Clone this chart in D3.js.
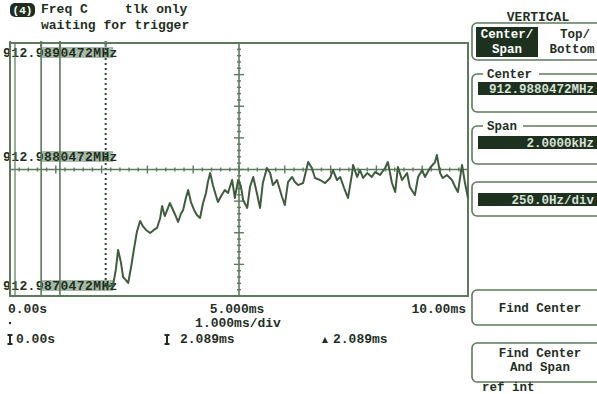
<!DOCTYPE html>
<html><head><meta charset="utf-8">
<script src="https://cdn.jsdelivr.net/npm/d3@7"></script>
<style>
body{margin:0;background:#fff}
svg{display:block}
text{font-family:"Liberation Mono","DejaVu Sans Mono",monospace;font-weight:bold}
</style>
</head><body>
<svg id="c" width="597" height="394"></svg>
<script>
// Frequency-vs-time capture (Freq C), 1 ms/div, 250 Hz/div about the center frequency
const timeMs = [2.09,2.25,2.31,2.36,2.42,2.47,2.53,2.58,2.64,2.71,2.77,2.84,2.90,2.97,3.06,3.14,3.21,3.28,3.32,3.38,
  3.45,3.49,3.56,3.62,3.67,3.73,3.78,3.84,3.89,3.95,4.02,4.08,4.15,4.21,4.28,4.32,4.37,4.43,4.48,4.54,
  4.61,4.69,4.76,4.85,4.91,4.98,5.04,5.09,5.18,5.24,5.31,5.39,5.46,5.52,5.61,5.68,5.74,5.83,5.94,6.00,
  6.07,6.16,6.22,6.29,6.40,6.51,6.59,6.66,6.77,6.88,6.99,7.05,7.14,7.21,7.31,7.38,7.47,7.49,7.58,7.64,
  7.71,7.80,7.90,7.97,8.08,8.19,8.25,8.34,8.41,8.47,8.56,8.67,8.73,8.84,8.91,9.00,9.06,9.17,9.28,9.32,
  9.39,9.45,9.54,9.65,9.72,9.78,9.87,9.93,10.00];
const freqOffsetHz = [-929,-913,-794,-636,-731,-850,-874,-897,-779,-621,-494,-407,-447,-478,-502,-478,-462,-383,-289,-368,
  -304,-265,-320,-368,-415,-352,-320,-225,-162,-257,-320,-360,-383,-273,-186,-99,-28,-123,-186,-257,
  -209,-162,-186,-83,-225,-83,-130,-241,-304,-138,-59,-186,-304,-107,12,-28,-123,-83,-217,-281,
  -99,-59,-99,-123,-107,59,12,-67,-83,-107,-67,-4,-83,-59,-162,-225,-28,36,-59,-4,
  -67,-28,-59,-20,-43,12,59,-107,-178,20,-83,-28,-138,-202,-59,-4,-59,12,59,115,
  -28,-67,-43,-83,-138,-178,36,-99,-225];

const freqTickValues = [1000, 0, -1000];
const freqTickLabels = ["912.9890472MHz", "912.9880472MHz", "912.9870472MHz"];
const timeTickValues = [0, 5, 10];
const timeTickLabels = ["0.00s", "5.000ms", "10.00ms"];
const markerLinesMs = [0.68, 1.09];
const cursorMs = 2.089;
const cursorReadouts = ["0.00s", "2.089ms", "2.089ms"];
const timePerDiv = "1.000ms/div";
const headerLines = ["Freq C", "tlk only", "waiting for trigger"];
const panelTitle = "VERTICAL";
const centerText = "912.9880472MHz";
const spanText = "2.0000kHz";
const perDivText = "250.0Hz/div";

const ink = "#1f2f1f", grid = "#5d7a5d", trace = "#3f5c3f", field = "#1e301e";
const svg = d3.select("#c");

const x = d3.scaleLinear().domain([0, 10]).range([10, 468]);
const y = d3.scaleLinear().domain([-1000, 1000]).range([296, 43]);

// header
svg.append("rect").attr("x", 10).attr("y", 3).attr("width", 25).attr("height", 14).attr("rx", 5).attr("fill", ink);
svg.append("text").attr("x", 22.5).attr("y", 14).attr("text-anchor", "middle").attr("fill", "#fff")
  .attr("font-size", 11).text("(4)");
svg.append("text").attr("x", 41).attr("y", 13).attr("font-size", 13).attr("fill", ink).text(headerLines[0]);
svg.append("text").attr("x", 125).attr("y", 13).attr("font-size", 13).attr("fill", ink).text(headerLines[1]);
svg.append("text").attr("x", 41).attr("y", 29).attr("font-size", 13).attr("fill", ink).text(headerLines[2]);

// frequency labels inside the plot
const fl = [{dy: 14}, {dy: -8.5}, {dy: -6}];
freqTickValues.forEach((v, i) => {
  const base = y(v) + fl[i].dy;
  svg.append("rect").attr("x", 41).attr("y", base - 10).attr("width", 72).attr("height", 11)
    .attr("fill", "#a7b9a7");
  svg.append("text").attr("x", 3).attr("y", base).attr("font-size", 13).attr("fill", ink)
    .attr("letter-spacing", 0.4).text(freqTickLabels[i]);
});

// plot frame
const g = svg.append("g").attr("stroke", grid).attr("fill", "none");
g.append("rect").attr("x", x(0)).attr("y", y(1000)).attr("width", x(10) - x(0)).attr("height", y(-1000) - y(1000))
  .attr("stroke-width", 2);
g.append("line").attr("x1", x(0) + 5).attr("x2", x(0) + 5).attr("y1", y(1000)).attr("y2", y(-1000)).attr("stroke-width", 1.2);

// marker lines
markerLinesMs.forEach(t => {
  g.append("line").attr("x1", x(t)).attr("x2", x(t)).attr("y1", y(1000)).attr("y2", y(-1000)).attr("stroke-width", 1.6);
});
g.append("line").attr("x1", x(cursorMs)).attr("x2", x(cursorMs)).attr("y1", y(1000)).attr("y2", y(-1000) - 10)
  .attr("stroke", "#2f4a2f").attr("stroke-width", 2).attr("stroke-dasharray", "2,3");

// center crosshair with ticks
g.append("line").attr("x1", x(0)).attr("x2", x(10)).attr("y1", y(0)).attr("y2", y(0)).attr("stroke-width", 1.6);
g.append("line").attr("x1", x(5)).attr("x2", x(5)).attr("y1", y(1000)).attr("y2", y(-1000)).attr("stroke-width", 1.6);
d3.range(0, 10.001, 0.2).forEach(t => {
  const major = Math.abs(t - Math.round(t)) < 1e-6;
  const h = major ? 4 : 2;
  g.append("line").attr("x1", x(t)).attr("x2", x(t)).attr("y1", y(0) - h).attr("y2", y(0) + h).attr("stroke-width", 1.4);
});
d3.range(-1000, 1000.1, 50).forEach(f => {
  const major = Math.abs(f % 250) < 1e-6;
  const w = major ? 5 : 2;
  g.append("line").attr("x1", x(5) - w).attr("x2", x(5) + w).attr("y1", y(f)).attr("y2", y(f)).attr("stroke-width", 1.4);
});
// top tick stubs at the cursor lines
[0, markerLinesMs[0], markerLinesMs[1], cursorMs].forEach(t => {
  g.append("line").attr("x1", x(t)).attr("x2", x(t)).attr("y1", y(1000) - 2).attr("y2", y(1000) + 4).attr("stroke-width", 2);
});

// trace
const pts = timeMs.map((t, i) => [t, freqOffsetHz[i]]);
svg.append("path").datum(pts)
  .attr("d", d3.line().x(d => x(d[0])).y(d => y(d[1])))
  .attr("fill", "none").attr("stroke", trace).attr("stroke-width", 2).attr("stroke-linejoin", "round");

// time axis labels
const anchors = ["start", "middle", "end"];
timeTickValues.forEach((v, i) => {
  svg.append("text").attr("x", x(v) - 2).attr("y", 313)
    .attr("text-anchor", anchors[i]).attr("font-size", 13).attr("fill", ink).text(timeTickLabels[i]);
});
svg.append("text").attr("x", 238).attr("y", 327).attr("text-anchor", "middle").attr("font-size", 13).attr("fill", ink).text(timePerDiv);
svg.append("circle").attr("cx", 10).attr("cy", 323).attr("r", 1.2).attr("fill", ink);

// cursor readouts
function ibeam(cx) {
  svg.append("path").attr("d", `M${cx-2.5},335 h5 M${cx},335 v9 M${cx-2.5},344 h5`)
    .attr("stroke", ink).attr("stroke-width", 2).attr("fill", "none");
}
ibeam(10); ibeam(167);
svg.append("text").attr("x", 16).attr("y", 343).attr("font-size", 13).attr("fill", ink).text(cursorReadouts[0]);
svg.append("text").attr("x", 180).attr("y", 343).attr("font-size", 13).attr("fill", ink).text(cursorReadouts[1]);
svg.append("path").attr("d", "M322,343 L325,337 L328,343 Z").attr("fill", ink);
svg.append("text").attr("x", 333).attr("y", 343).attr("font-size", 13).attr("fill", ink).text(cursorReadouts[2]);

// right-hand control panel
const p = svg.append("g");
p.append("text").attr("x", 538).attr("y", 21).attr("text-anchor", "middle").attr("font-size", 13).attr("fill", ink).text(panelTitle);
p.append("rect").attr("x", 472).attr("y", 23).attr("width", 140).attr("height", 37).attr("rx", 5)
  .attr("fill", "none").attr("stroke", grid).attr("stroke-width", 1.6);
p.append("rect").attr("x", 476).attr("y", 27).attr("width", 62).attr("height", 30).attr("fill", field);
p.append("text").attr("x", 507).attr("y", 38).attr("text-anchor", "middle").attr("font-size", 12.5).attr("fill", "#fff").text("Center/");
p.append("text").attr("x", 507).attr("y", 53).attr("text-anchor", "middle").attr("font-size", 12.5).attr("fill", "#fff").text("Span");
p.append("text").attr("x", 575).attr("y", 38).attr("text-anchor", "middle").attr("font-size", 12.5).attr("fill", ink).text("Top/");
p.append("text").attr("x", 572).attr("y", 53).attr("text-anchor", "middle").attr("font-size", 12.5).attr("fill", ink).text("Bottom");

function groupBox(top, h, label, fieldTop, txt) {
  p.append("rect").attr("x", 472).attr("y", top).attr("width", 140).attr("height", h).attr("rx", 5)
    .attr("fill", "none").attr("stroke", grid).attr("stroke-width", 1.6);
  if (label) {
    p.append("rect").attr("x", 483).attr("y", top - 6).attr("width", label.length * 8 + 8).attr("height", 12).attr("fill", "#fff");
    p.append("text").attr("x", 487).attr("y", top + 4).attr("font-size", 12.5).attr("fill", ink).text(label);
  }
  p.append("rect").attr("x", 478).attr("y", fieldTop).attr("width", 130).attr("height", 13).attr("fill", field);
  p.append("text").attr("x", 594).attr("y", fieldTop + 10.5).attr("text-anchor", "end")
    .attr("font-size", 12.5).attr("font-weight", "normal").attr("fill", "#d8e0d8").text(txt);
}
groupBox(74, 38, "Center", 82, centerText);
groupBox(126, 38, "Span", 136, spanText);
groupBox(182, 34, null, 193, perDivText);

function button(top, h, lines) {
  p.append("rect").attr("x", 472).attr("y", top).attr("width", 140).attr("height", h).attr("rx", 5)
    .attr("fill", "none").attr("stroke", grid).attr("stroke-width", 1.6);
  lines.forEach((s, i) => {
    p.append("text").attr("x", 540).attr("y", top + (lines.length === 1 ? h / 2 + 4 : 14 + i * 14))
      .attr("text-anchor", "middle").attr("font-size", 12.5).attr("fill", ink).text(s);
  });
}
button(290, 35, ["Find Center"]);
button(343, 39, ["Find Center", "And Span"]);
p.append("text").attr("x", 482).attr("y", 391).attr("font-size", 12.5).attr("fill", ink).text("ref int");
</script>
</body></html>
